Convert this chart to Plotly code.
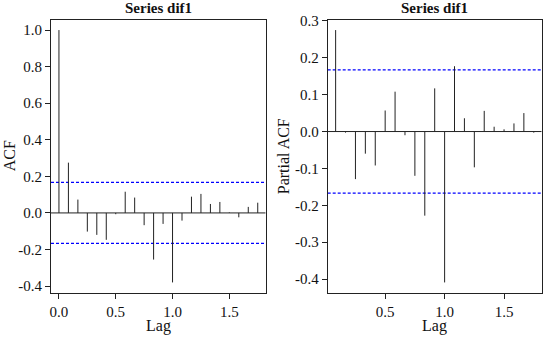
import plotly.graph_objects as go

# ---- data ----
acf_lags = [i / 12 for i in range(0, 22)]
acf_vals = [1.0, 0.275, 0.073, -0.102, -0.120, -0.147, -0.007, 0.116, 0.084, -0.067,
            -0.255, -0.060, -0.380, -0.042, 0.089, 0.104, 0.049, 0.060, 0.003, -0.024,
            0.033, 0.056]
pacf_lags = [i / 12 for i in range(1, 22)]
pacf_vals = [0.275, -0.003, -0.129, -0.060, -0.092, 0.057, 0.108, -0.010, -0.120, -0.228,
             0.117, -0.409, 0.177, 0.036, -0.097, 0.056, 0.013, 0.006, 0.022, 0.050, -0.003]
conf_limit = 0.167
title_text = "Series dif1"

acf_yticks = [-0.4, -0.2, 0.0, 0.2, 0.4, 0.6, 0.8, 1.0]
pacf_yticks = [-0.4, -0.3, -0.2, -0.1, 0.0, 0.1, 0.2, 0.3]
acf_xticks = [0.0, 0.5, 1.0, 1.5]
pacf_xticks = [0.5, 1.0, 1.5]

def fmt(v):
    return f"{v:.1f}"

FONT = "Liberation Serif"

def spikes(xs, ys):
    X, Y = [], []
    for x, y in zip(xs, ys):
        X += [x, x, None]
        Y += [0, y, None]
    return X, Y

def rng(lo, hi):
    d = (hi - lo) * 0.04
    return [lo - d, hi + d]

acf_xr = rng(min(acf_lags), max(acf_lags))
pacf_xr = rng(min(pacf_lags), max(pacf_lags))
acf_yr = rng(min(acf_vals + [-conf_limit]), max(acf_vals + [conf_limit]))
pacf_yr = rng(min(pacf_vals + [-conf_limit]), max(pacf_vals + [conf_limit]))

fig = go.Figure()
for lags, vals, xr, xa, ya in [(acf_lags, acf_vals, acf_xr, "x", "y"),
                               (pacf_lags, pacf_vals, pacf_xr, "x2", "y2")]:
    fig.add_trace(go.Scatter(x=xr, y=[0, 0], mode="lines", line=dict(color="#222", width=1),
                             xaxis=xa, yaxis=ya, showlegend=False, hoverinfo="skip"))
    for c in (conf_limit, -conf_limit):
        fig.add_trace(go.Scatter(x=xr, y=[c, c], mode="lines",
                                 line=dict(color="#0000ff", width=1.2, dash="3px,2px"),
                                 xaxis=xa, yaxis=ya, showlegend=False, hoverinfo="skip"))
    sx, sy = spikes(lags, vals)
    fig.add_trace(go.Scatter(x=sx, y=sy, mode="lines", line=dict(color="#222", width=1),
                             xaxis=xa, yaxis=ya, showlegend=False, hoverinfo="skip"))

axis_common = dict(showgrid=False, zeroline=False, showline=True, linecolor="#222",
                   linewidth=1, mirror=True, ticks="outside", ticklen=5, tickwidth=1,
                   tickcolor="#222", automargin=False,
                   tickfont=dict(family=FONT, size=15, color="#111"))

TF = dict(family=FONT, size=16, color="#111")
XD1 = [0.0939, 0.4893]
XD2 = [0.6035, 0.9976]
YD = [0.132, 0.9407]

fig.update_layout(
    width=543, height=337, margin=dict(l=0, r=0, t=0, b=0, autoexpand=False),
    paper_bgcolor="white", plot_bgcolor="white",
    xaxis=dict(domain=XD1, range=acf_xr, tickvals=acf_xticks,
               ticktext=[fmt(v) for v in acf_xticks], anchor="y", **axis_common),
    yaxis=dict(domain=YD, range=acf_yr, tickvals=acf_yticks,
               ticktext=[fmt(v) for v in acf_yticks], anchor="x", **axis_common),
    xaxis2=dict(domain=XD2, range=pacf_xr, tickvals=pacf_xticks,
                ticktext=[fmt(v) for v in pacf_xticks], anchor="y2", **axis_common),
    yaxis2=dict(domain=YD, range=pacf_yr, tickvals=pacf_yticks,
                ticktext=[fmt(v) for v in pacf_yticks], anchor="x2", **axis_common),
    annotations=[
        dict(text=f"<b>{title_text}</b>", x=sum(XD1) / 2, y=1 - 8 / 337, xref="paper", yref="paper",
             xanchor="center", yanchor="middle", showarrow=False,
             font=dict(family=FONT, size=15, color="#111")),
        dict(text=f"<b>{title_text}</b>", x=sum(XD2) / 2, y=1 - 8 / 337, xref="paper", yref="paper",
             xanchor="center", yanchor="middle", showarrow=False,
             font=dict(family=FONT, size=15, color="#111")),
        dict(text="Lag", x=sum(XD1) / 2, y=1 - 326 / 337, xref="paper", yref="paper",
             xanchor="center", yanchor="middle", showarrow=False, font=TF),
        dict(text="Lag", x=sum(XD2) / 2, y=1 - 326 / 337, xref="paper", yref="paper",
             xanchor="center", yanchor="middle", showarrow=False, font=TF),
        dict(text="ACF", x=9 / 543, y=sum(YD) / 2, xref="paper", yref="paper",
             xanchor="center", yanchor="middle", showarrow=False, textangle=-90, font=TF),
        dict(text="Partial ACF", x=283 / 543, y=sum(YD) / 2, xref="paper", yref="paper",
             xanchor="center", yanchor="middle", showarrow=False, textangle=-90, font=TF),
    ],
)

fig.write_html("out.html", config={"displayModeBar": False},
               post_script="document.body.style.margin='0';")
